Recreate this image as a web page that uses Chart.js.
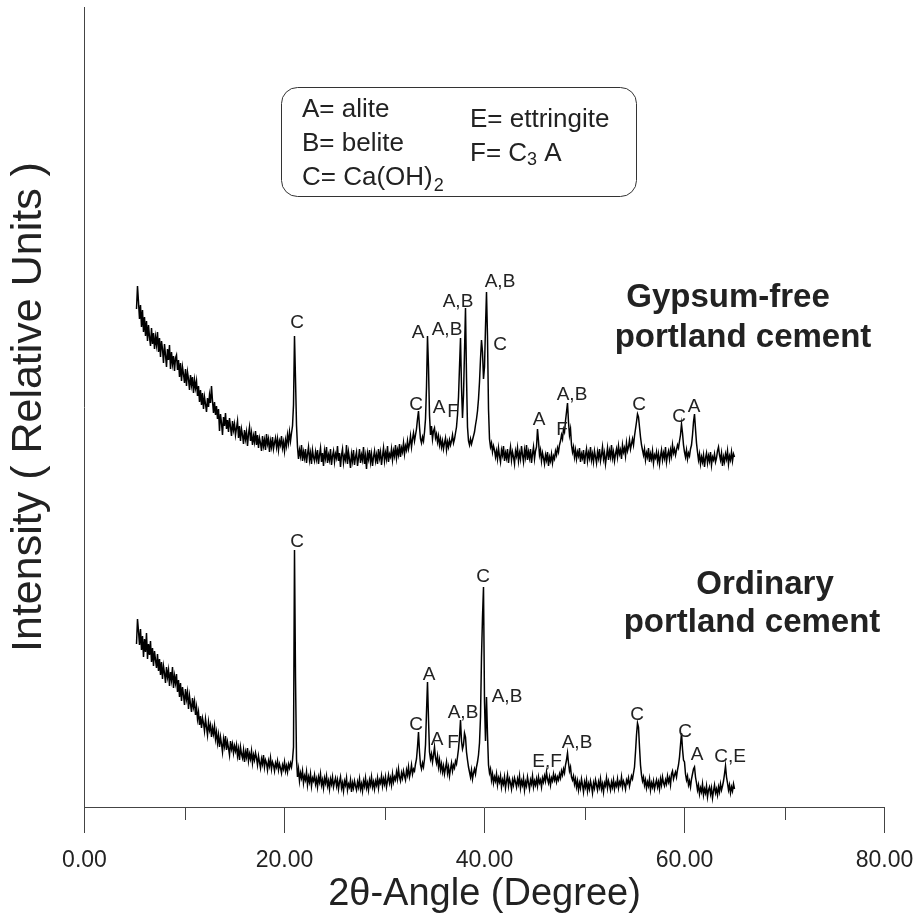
<!DOCTYPE html>
<html>
<head>
<meta charset="utf-8">
<script src="https://cdn.jsdelivr.net/npm/chart.js@4.4.0/dist/chart.umd.min.js"></script>
<style>
html, body { margin: 0; padding: 0; background: #fff; }
canvas { display: block; }
</style>
</head>
<body>
<canvas id="xrd" width="915" height="917"></canvas>
<script>
// 2-theta scan: 5.2 .. 65.0 deg, 0.1 deg steps
const angleStart = 5.2;
const angleStep = 0.1;

// intensity, arbitrary units (upper pattern), one row = 2 deg
const gypsumFree = [
  498, 521, 505, 488, 502, 480, 497, 475, 490, 471, 486, 466, 482, 470, 461, 479, 463, 474, 458, 470,
  462, 475, 455, 469, 450, 466, 458, 444, 463, 452, 440, 458, 447, 462, 438, 455, 443, 451, 436, 449,
  452, 437, 447, 430, 444, 426, 440, 433, 424, 438, 421, 435, 428, 417, 432, 422, 430, 414, 427, 419,
  426, 411, 421, 405, 417, 402, 414, 398, 410, 403, 395, 409, 400, 412, 404, 421, 406, 394, 405, 392,
  401, 388, 398, 376, 393, 384, 372, 390, 381, 394, 378, 387, 375, 389, 380, 371, 386, 377, 383, 372,
  379, 386, 369, 381, 366, 378, 372, 363, 377, 368, 375, 361, 373, 380, 366, 374, 362, 371, 365, 376,
  362, 372, 359, 369, 364, 356, 371, 361, 367, 357, 373, 363, 368, 355, 366, 360, 370, 358, 364, 369,
  360, 368, 357, 366, 362, 371, 359, 365, 356, 367, 361, 372, 364, 375, 366, 374, 381, 402, 471, 428,
  382, 360, 348, 357, 351, 362, 346, 355, 349, 358, 344, 353, 360, 347, 354, 343, 357, 350, 346, 355,
  348, 357, 343, 352, 359, 345, 354, 341, 356, 349, 360, 344, 352, 347, 358, 342, 351, 356, 345, 353,
  349, 361, 346, 354, 340, 352, 358, 344, 351, 347, 362, 343, 355, 348, 339, 353, 346, 357, 342, 350,
  355, 341, 349, 358, 344, 352, 347, 360, 343, 351, 338, 354, 348, 357, 345, 353, 341, 350, 356, 346,
  352, 343, 358, 349, 355, 342, 351, 359, 346, 354, 348, 361, 345, 353, 350, 358, 347, 356, 351, 362,
  349, 357, 352, 363, 350, 359, 355, 364, 353, 361, 357, 366, 358, 363, 371, 360, 368, 374, 366, 372,
  378, 388, 396, 380, 368, 364, 370, 366, 375, 388, 420, 471, 440, 392, 372, 381, 368, 376, 379, 369,
  373, 365, 371, 362, 368, 360, 366, 358, 364, 369, 357, 365, 360, 367, 362, 366, 372, 364, 368, 374,
  380, 392, 410, 440, 469, 420, 389, 412, 455, 499, 430, 380, 366, 362, 368, 363, 367, 371, 375, 382,
  388, 396, 408, 425, 448, 467, 455, 428, 440, 480, 515, 470, 398, 368, 360, 364, 355, 361, 357, 350,
  356, 348, 359, 351, 345, 357, 352, 361, 346, 354, 349, 358, 344, 353, 360, 347, 355, 350, 343, 356,
  351, 359, 346, 354, 348, 361, 352, 345, 357, 350, 362, 347, 355, 349, 358, 344, 353, 360, 348, 356,
  360, 378, 366, 352, 357, 346, 354, 349, 343, 352, 347, 355, 341, 350, 346, 353, 344, 351, 348, 356,
  352, 359, 355, 362, 366, 372, 368, 378, 375, 386, 395, 404, 385, 372, 378, 362, 355, 360, 350, 357,
  348, 355, 351, 359, 345, 353, 349, 357, 343, 352, 358, 346, 354, 349, 360, 347, 353, 345, 356, 350,
  344, 355, 349, 358, 346, 352, 360, 348, 354, 343, 351, 359, 347, 356, 350, 362, 349, 355, 346, 353,
  358, 350, 361, 353, 357, 348, 362, 355, 359, 351, 364, 356, 360, 367, 358, 363, 368, 362, 371, 378,
  385, 393, 390, 380, 370, 362, 357, 352, 358, 347, 354, 350, 359, 345, 353, 348, 356, 344, 352, 349,
  355, 346, 353, 343, 351, 357, 347, 354, 349, 360, 345, 352, 356, 348, 357, 351, 362, 354, 358, 352,
  357, 362, 359, 366, 372, 383, 374, 362, 355, 350, 357, 348, 354, 351, 358, 362, 372, 385, 393, 378,
  364, 355, 347, 353, 343, 350, 345, 352, 340, 349, 354, 344, 351, 346, 355, 342, 350, 347, 353, 345,
  349, 356, 360, 352, 347, 354, 341, 350, 345, 353, 348, 356, 343, 351, 347, 355, 346, 353, 350
];

// intensity, arbitrary units (lower pattern), one row = 2 deg
const ordinary = [
  163, 188, 176, 162, 178, 157, 171, 150, 168, 155, 174, 148, 163, 152, 166, 145, 159, 141, 156, 147,
  139, 153, 136, 148, 132, 145, 128, 141, 134, 124, 140, 130, 137, 121, 135, 127, 140, 119, 131, 124,
  133, 115, 127, 110, 124, 106, 120, 112, 102, 118, 108, 115, 98, 111, 103, 95, 109, 100, 106, 92,
  100, 88, 95, 82, 91, 79, 89, 84, 76, 88, 80, 72, 85, 77, 82, 70, 79, 73, 81, 68,
  75, 64, 72, 60, 70, 63, 55, 68, 61, 71, 57, 65, 59, 52, 66, 58, 63, 54, 61, 56,
  62, 51, 58, 47, 60, 53, 49, 57, 45, 55, 50, 59, 46, 53, 48, 56, 44, 52, 47, 54,
  49, 42, 51, 45, 39, 48, 43, 52, 40, 47, 44, 37, 46, 41, 49, 38, 45, 42, 36, 44,
  40, 46, 37, 43, 39, 34, 42, 38, 45, 36, 41, 35, 43, 39, 44, 40, 47, 60, 257, 130,
  48, 30, 38, 26, 34, 29, 36, 24, 31, 27, 35, 22, 30, 25, 33, 21, 29, 26, 32, 23,
  28, 20, 30, 25, 33, 22, 27, 19, 29, 24, 31, 21, 26, 18, 28, 23, 30, 20, 25, 29,
  21, 27, 18, 25, 30, 19, 24, 16, 26, 22, 29, 17, 23, 20, 27, 15, 24, 19, 26, 21,
  17, 25, 20, 28, 18, 23, 16, 26, 21, 29, 19, 24, 17, 27, 22, 30, 20, 25, 18, 26,
  22, 29, 19, 27, 24, 31, 21, 28, 23, 30, 20, 26, 32, 24, 29, 22, 33, 25, 30, 27,
  35, 28, 38, 30, 26, 34, 29, 36, 31, 27, 37, 32, 40, 30, 35, 42, 33, 38, 36, 43,
  48, 60, 75, 55, 42, 38, 44, 40, 48, 62, 95, 125, 88, 55, 48, 53, 45, 52, 60, 49,
  44, 51, 40, 47, 37, 43, 35, 41, 33, 39, 45, 34, 40, 31, 38, 44, 36, 42, 39, 46,
  43, 50, 58, 70, 87, 66, 58, 62, 74, 70, 55, 47, 40, 35, 30, 37, 28, 34, 38, 33,
  40, 45, 52, 64, 90, 150, 190, 220, 105, 66, 110, 72, 42, 34, 38, 27, 33, 24, 30, 26,
  33, 22, 29, 25, 31, 20, 27, 23, 30, 19, 26, 32, 21, 28, 24, 18, 27, 22, 29, 25,
  20, 28, 23, 31, 19, 26, 22, 29, 17, 25, 21, 30, 24, 18, 27, 23, 31, 20, 26, 22,
  28, 21, 30, 24, 27, 20, 29, 25, 31, 26, 35, 28, 24, 30, 22, 29, 26, 33, 27, 31,
  25, 30, 27, 33, 29, 36, 32, 38, 34, 42, 47, 54, 44, 36, 40, 30, 27, 31, 23, 28,
  20, 26, 17, 24, 19, 28, 22, 15, 25, 20, 27, 16, 23, 18, 26, 21, 14, 24, 19, 27,
  22, 17, 25, 20, 28, 18, 23, 15, 24, 21, 29, 19, 26, 22, 17, 25, 20, 27, 18, 24,
  21, 28, 19, 25, 22, 30, 20, 26, 23, 18, 27, 24, 29, 21, 26, 31, 28, 34, 40, 55,
  72, 84, 80, 60, 42, 32, 26, 30, 22, 27, 19, 25, 21, 28, 17, 24, 20, 26, 18, 23,
  27, 20, 25, 18, 28, 22, 30, 24, 21, 27, 23, 31, 25, 29, 22, 33, 36, 28, 32, 35,
  30, 37, 42, 50, 62, 74, 58, 47, 45, 33, 27, 31, 22, 26, 20, 28, 33, 38, 40, 30,
  24, 17, 22, 13, 19, 15, 23, 12, 18, 14, 21, 10, 17, 20, 13, 19, 9, 16, 22, 14,
  18, 12, 20, 15, 23, 17, 21, 26, 33, 41, 30, 24, 17, 22, 14, 20, 16, 23, 18
];

// phase letters: [text, 2theta, intensity] where the letter sits
const gypsumFreePeaks = [
  ['C', 21.25, 484], ['C', 33.15, 402], ['A', 33.35, 474], ['A', 35.45, 399],
  ['F', 36.85, 395], ['A,B', 36.25, 477], ['A,B', 37.35, 505], ['A,B', 41.55, 525],
  ['C', 41.55, 462], ['A', 45.45, 387], ['F', 47.75, 377], ['A,B', 48.75, 412],
  ['C', 55.45, 402], ['C', 59.45, 390], ['A', 60.95, 400]
];
const ordinaryPeaks = [
  ['C', 21.25, 265], ['C', 33.15, 82], ['A', 34.45, 132], ['A', 35.25, 67],
  ['F', 36.85, 64], ['A,B', 37.85, 94], ['C', 39.85, 230], ['A,B', 42.25, 110],
  ['E,F', 46.25, 45], ['A,B', 49.25, 64], ['C', 55.25, 92], ['C', 60.05, 75],
  ['A', 61.25, 52], ['C,E', 64.55, 50]
];

const majorTicks = [0, 20, 40, 60, 80];
const minorTicks = [10, 30, 50, 70];

const FONT = '"Liberation Sans", Arial, Helvetica, sans-serif';
const INK = '#222';

const angles = gypsumFree.map((_, i) => +(angleStart + i * angleStep).toFixed(1));
const toPoints = arr => arr.map((v, i) => ({ x: angles[i], y: v }));

const annotate = {
  id: 'annotate',
  afterDraw(chart) {
    const { ctx, scales: { x, y } } = chart;
    ctx.save();

    // short minor ticks
    ctx.strokeStyle = '#444';
    ctx.lineWidth = 1;
    minorTicks.forEach(v => {
      const px = Math.round(x.getPixelForValue(v)) + 0.5;
      ctx.beginPath();
      ctx.moveTo(px, y.bottom);
      ctx.lineTo(px, y.bottom + 13);
      ctx.stroke();
    });

    // phase letters on the peaks
    ctx.fillStyle = INK;
    ctx.textAlign = 'center';
    ctx.textBaseline = 'middle';
    ctx.font = '19px ' + FONT;
    gypsumFreePeaks.concat(ordinaryPeaks).forEach(([t, a, v]) => {
      ctx.fillText(t, x.getPixelForValue(a), y.getPixelForValue(v));
    });

    // sample names
    ctx.font = 'bold 33px ' + FONT;
    ctx.textBaseline = 'alphabetic';
    ctx.fillText('Gypsum-free', 728, 307);
    ctx.fillText('portland cement', 743, 347);
    ctx.fillText('Ordinary', 765, 594);
    ctx.fillText('portland cement', 752, 632);

    // key box
    ctx.strokeStyle = '#333';
    ctx.lineWidth = 1;
    ctx.beginPath();
    ctx.roundRect(281.5, 87.5, 355, 109, 16);
    ctx.stroke();

    ctx.textAlign = 'left';
    ctx.font = '26px ' + FONT;
    ctx.fillText('A= alite', 302, 117);
    ctx.fillText('B= belite', 302, 151);
    let w = ctx.measureText('C= Ca(OH)').width;
    ctx.fillText('C= Ca(OH)', 302, 185);
    ctx.font = '18px ' + FONT;
    ctx.fillText('2', 302 + w + 1, 191);
    ctx.font = '26px ' + FONT;
    ctx.fillText('E= ettringite', 470, 127);
    w = ctx.measureText('F= C').width;
    ctx.fillText('F= C', 470, 161);
    ctx.font = '18px ' + FONT;
    ctx.fillText('3', 470 + w, 165);
    const w3 = ctx.measureText('3').width;
    ctx.font = '26px ' + FONT;
    ctx.fillText(' A', 470 + w + w3, 161);

    ctx.restore();
  }
};

new Chart(document.getElementById('xrd'), {
  type: 'line',
  data: {
    datasets: [
      { label: 'Gypsum-free portland cement', data: toPoints(gypsumFree) },
      { label: 'Ordinary portland cement', data: toPoints(ordinary) }
    ]
  },
  options: {
    responsive: false,
    animation: false,
    events: [],
    layout: { padding: { left: 0, right: 30.5, top: 7, bottom: 0 } },
    elements: {
      line: { borderColor: '#000', borderWidth: 1.5, tension: 0 },
      point: { radius: 0 }
    },
    plugins: { legend: { display: false }, tooltip: { enabled: false } },
    scales: {
      x: {
        type: 'linear',
        min: 0,
        max: 80,
        afterFit: s => { s.height = 110; s.paddingLeft = 0; s.paddingRight = 0; },
        afterBuildTicks: s => { s.ticks = majorTicks.map(v => ({ value: v })); },
        ticks: {
          color: INK,
          padding: 14,
          maxRotation: 0,
          font: { family: FONT, size: 23 },
          callback: v => Number(v).toFixed(2)
        },
        grid: { drawOnChartArea: false, drawTicks: true, tickLength: 26, color: '#444', lineWidth: 1 },
        border: { display: true, color: '#444', width: 1 },
        title: {
          display: true,
          text: '2\u03B8-Angle (Degree)',
          color: INK,
          font: { family: FONT, size: 38 },
          padding: { top: 0, bottom: 0 }
        }
      },
      y: {
        min: 0,
        max: 800,
        afterFit: s => { s.width = 84.5; },
        ticks: { display: false },
        grid: { display: false },
        border: { display: true, color: '#444', width: 1 },
        title: {
          display: true,
          text: 'Intensity ( Relative Units )',
          color: INK,
          font: { family: FONT, size: 43 },
          padding: { top: 3, bottom: 0 }
        }
      }
    }
  },
  plugins: [annotate]
});
</script>
</body>
</html>
